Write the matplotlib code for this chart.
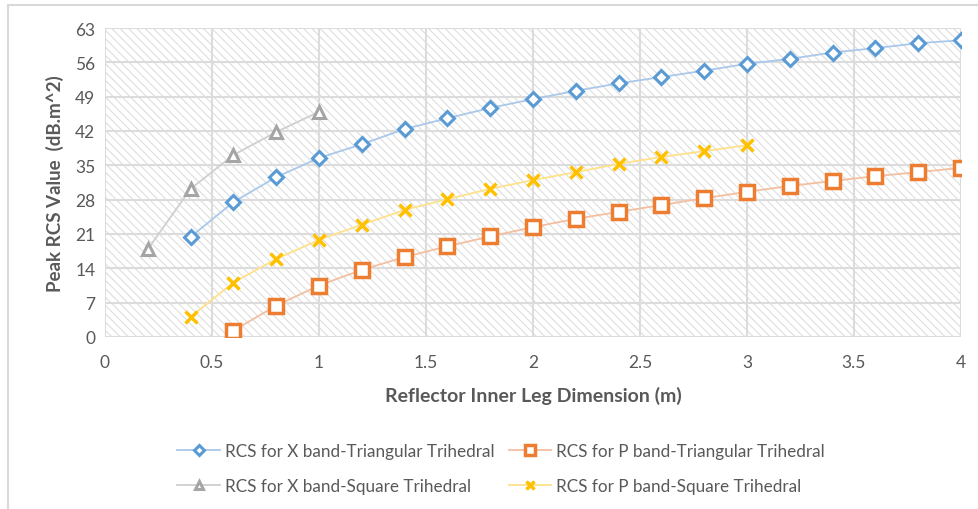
import matplotlib
matplotlib.use('Agg')
import matplotlib.pyplot as plt
from matplotlib.patches import Rectangle

# -----------------------------
# Data
# -----------------------------
x_tri = [0.4, 0.6, 0.8, 1.0, 1.2, 1.4, 1.6, 1.8, 2.0, 2.2, 2.4, 2.6, 2.8, 3.0, 3.2, 3.4, 3.6, 3.8, 4.0]
x_band_tri = [20.4, 27.5, 32.6, 36.5, 39.3, 42.4, 44.6, 46.7, 48.5, 50.2, 51.7, 53.0, 54.3, 55.7, 56.7, 58.0, 58.9, 59.9, 60.5]

x_p_tri = [0.6, 0.8, 1.0, 1.2, 1.4, 1.6, 1.8, 2.0, 2.2, 2.4, 2.6, 2.8, 3.0, 3.2, 3.4, 3.6, 3.8, 4.0]
p_band_tri = [1.3, 6.4, 10.5, 13.7, 16.3, 18.5, 20.5, 22.4, 24.1, 25.5, 26.9, 28.3, 29.6, 30.8, 31.8, 32.8, 33.6, 34.5]

x_sq = [0.2, 0.4, 0.6, 0.8, 1.0]
x_band_sq = [17.9, 30.2, 37.1, 41.8, 45.9]

x_p_sq = [0.4, 0.6, 0.8, 1.0, 1.2, 1.4, 1.6, 1.8, 2.0, 2.2, 2.4, 2.6, 2.8, 3.0]
p_band_sq = [4.1, 11.1, 15.9, 19.8, 22.9, 25.9, 28.1, 30.2, 32.0, 33.6, 35.3, 36.7, 37.9, 39.1]

x_ticks = [0, 0.5, 1, 1.5, 2, 2.5, 3, 3.5, 4]
x_tick_labels = ["0", "0.5", "1", "1.5", "2", "2.5", "3", "3.5", "4"]
y_ticks = [0, 7, 14, 21, 28, 35, 42, 49, 56, 63]

plt.rcParams['font.family'] = ['Lato', 'DejaVu Sans']
plt.rcParams['hatch.linewidth'] = 0.7
plt.rcParams['hatch.color'] = '#dadada'

TXT = '#595959'
GRID = '#dcdcdc'

fig = plt.figure(figsize=(9.79, 5.10), dpi=100)

# outer chart frame
fig.patches.append(Rectangle((8 / 979, -0.1), 1.2, (510 - 6) / 510 + 0.1,
                             transform=fig.transFigure, fill=False,
                             edgecolor='#d9d9d9', linewidth=1.5, zorder=0))

ax = fig.add_axes([105 / 979, (510 - 338) / 510, (961 - 105) / 979, (338 - 29) / 510])

# hatched plot area
ax.add_patch(Rectangle((0, 0), 1, 1, transform=ax.transAxes, facecolor='white',
                       edgecolor='#dadada', hatch='\\\\\\\\', linewidth=0, zorder=0))

l1, = ax.plot(x_tri, x_band_tri, color='#a9c8ea', linewidth=1.3, marker='D', markersize=7,
              markerfacecolor='white', markeredgecolor='#5b9bd5', markeredgewidth=2.2,
              label='RCS for X band-Triangular Trihedral', zorder=3)
l2, = ax.plot(x_p_tri, p_band_tri, color='#f4bfa0', linewidth=1.3, marker='s', markersize=10,
              markerfacecolor='white', markeredgecolor='#ed7d31', markeredgewidth=2.5,
              label='RCS for P band-Triangular Trihedral', zorder=3)
l3, = ax.plot(x_sq, x_band_sq, color='#cfcfcf', linewidth=1.3, marker='^', markersize=9,
              markerfacecolor='white', markeredgecolor='#a5a5a5', markeredgewidth=2.2,
              label='RCS for X band-Square Trihedral', zorder=3)
l4, = ax.plot(x_p_sq, p_band_sq, color='#ffe18a', linewidth=1.3, marker='x', markersize=9,
              markeredgecolor='#ffc000', markeredgewidth=2.5,
              label='RCS for P band-Square Trihedral', zorder=3)

ax.set_xlim(0, 4)
ax.set_ylim(0, 63)
ax.set_xticks(x_ticks)
ax.set_xticklabels(x_tick_labels)
ax.set_yticks(y_ticks)
ax.grid(True, color=GRID, linewidth=1.5, zorder=1)
ax.set_axisbelow(True)
for s in ax.spines.values():
    s.set_visible(False)
ax.tick_params(axis='both', length=0, labelsize=12.5, colors=TXT)
ax.tick_params(axis='x', pad=12)
ax.tick_params(axis='y', pad=7)

ax.set_xlabel('Reflector Inner Leg Dimension (m)', fontsize=14, fontweight='bold',
              color=TXT, labelpad=12)
ax.set_ylabel('Peak RCS Value  (dB.m^2)', fontsize=13.5, fontweight='bold',
              color=TXT, labelpad=8)

# legend fills column-wise, so order handles to read row-wise like the original
handles = [l1, l3, l2, l4]
labels = [h.get_label() for h in handles]
leg = fig.legend(handles, labels, loc='center', bbox_to_anchor=(0.512, 0.08), ncol=2,
                 frameon=False, fontsize=12.3, labelcolor=TXT, handlelength=2.5,
                 columnspacing=0.8, labelspacing=1.1, handletextpad=0.3,
                 markerscale=0.7)

plt.savefig('out.png', dpi=100)
plt.close()
